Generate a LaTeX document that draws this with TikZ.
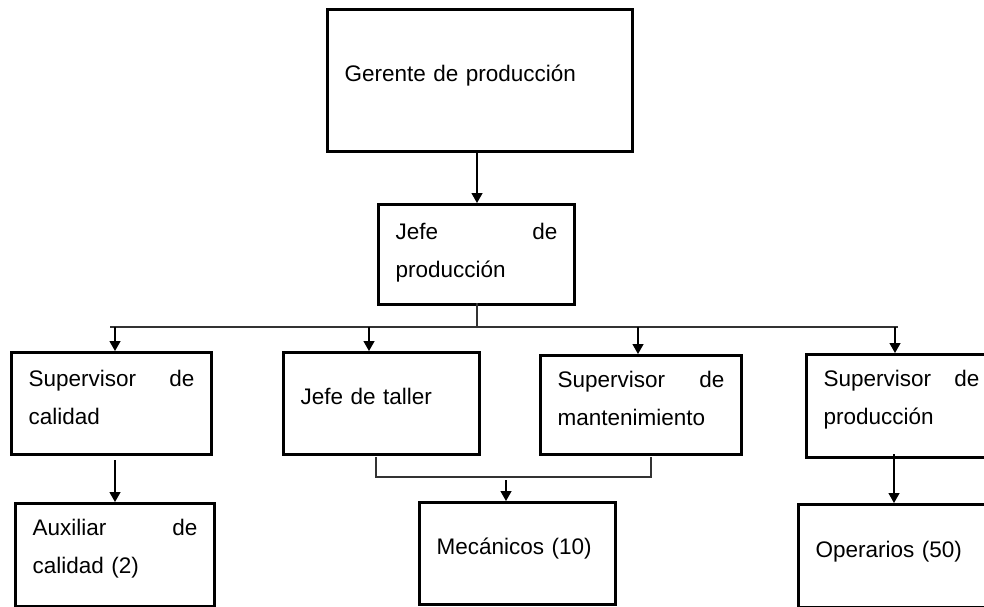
\documentclass[tikz,border=0pt]{standalone}
\usepackage{fontspec}
\setmainfont{Liberation Sans}
\usetikzlibrary{arrows.meta}
\tikzset{
  orgbox/.style={draw=black, line width=3pt, rectangle, anchor=north west,
    inner xsep=17pt, inner ysep=0pt, align=left, text depth=14pt,
    font=\fontsize{22.5}{38}\selectfont},
  twoline/.style={text depth=#1},
  conn/.style={draw=black, line width=1.3pt},
  arr/.style={conn, -{Triangle[length=10pt,width=11pt]}},
  bus/.style={draw=black!80, line width=1.2pt}
}
\begin{document}
\begin{tikzpicture}[x=1pt,y=-1pt]
\useasboundingbox (0,0) rectangle (984,606);
\clip (0,0) rectangle (984,606);
\fill[white] (0,0) rectangle (984,606);
% boxes
\node[orgbox, minimum width=305pt, minimum height=142pt, text width=271pt] (ger) at (326,8) {Gerente de producción};
\node[orgbox, twoline=47pt, minimum width=196pt, minimum height=100pt, text width=162pt] (jpro) at (377,203) {Jefe\hfill de\\producción};
\node[orgbox, twoline=50pt, minimum width=200pt, minimum height=102pt, text width=166pt] (scal) at (10,351) {Supervisor\hfill de\\calidad};
\node[orgbox, minimum width=196pt, minimum height=102pt, text width=162pt] (jtal) at (282,351) {Jefe de taller};
\node[orgbox, twoline=52pt, minimum width=201pt, minimum height=99pt, text width=167pt] (smant) at (539,354) {Supervisor\hfill de\\mantenimiento};
\node[orgbox, twoline=55pt, minimum width=190pt, minimum height=103pt, text width=156pt] (sprod) at (805,353) {Supervisor\hfill de\\producción};
\node[orgbox, twoline=55pt, minimum width=199pt, minimum height=103pt, text width=165pt] (aux) at (14,502) {Auxiliar\hfill de\\calidad (2)};
\node[orgbox, minimum width=196pt, minimum height=102pt, text width=162pt] (mec) at (418,501) {Mecánicos (10)};
\node[orgbox, minimum width=203pt, minimum height=103pt, text width=169pt] (oper) at (797,503) {Operarios (50)};
% connectors
\coordinate (g1) at (477,150);
\draw[arr] (g1) -- (g1 |- jpro.north);
\coordinate (j1) at (477,303);
\coordinate (busL) at (110,327);
\coordinate (busR) at (898,327);
\draw[bus] (j1) -- (j1 |- busL);
\draw[bus] (busL) -- (busR);
\coordinate (b1) at (115,327);
\coordinate (b2) at (369,327);
\coordinate (b3) at (638,327);
\coordinate (b4) at (895,327);
\draw[arr] (b1) -- (b1 |- scal.north);
\draw[arr] (b2) -- (b2 |- jtal.north);
\draw[arr] (b3) -- (b3 |- smant.north);
\draw[arr] (b4) -- (b4 |- sprod.north);
% calidad -> auxiliar
\coordinate (c1) at (115,460);
\draw[arr] (c1) -- (c1 |- aux.north);
% bracket to mecanicos
\coordinate (m1) at (376,457);
\coordinate (m2) at (376,477);
\coordinate (m3) at (651,477);
\coordinate (m4) at (651,457);
\draw[bus] (m1) -- (m2) -- (m3) -- (m4);
\coordinate (m5) at (506,480);
\draw[arr] (m5) -- (m5 |- mec.north);
% supervisor produccion -> operarios
\coordinate (o1) at (894,454);
\draw[arr] (o1) -- (o1 |- oper.north);
\end{tikzpicture}
\end{document}
